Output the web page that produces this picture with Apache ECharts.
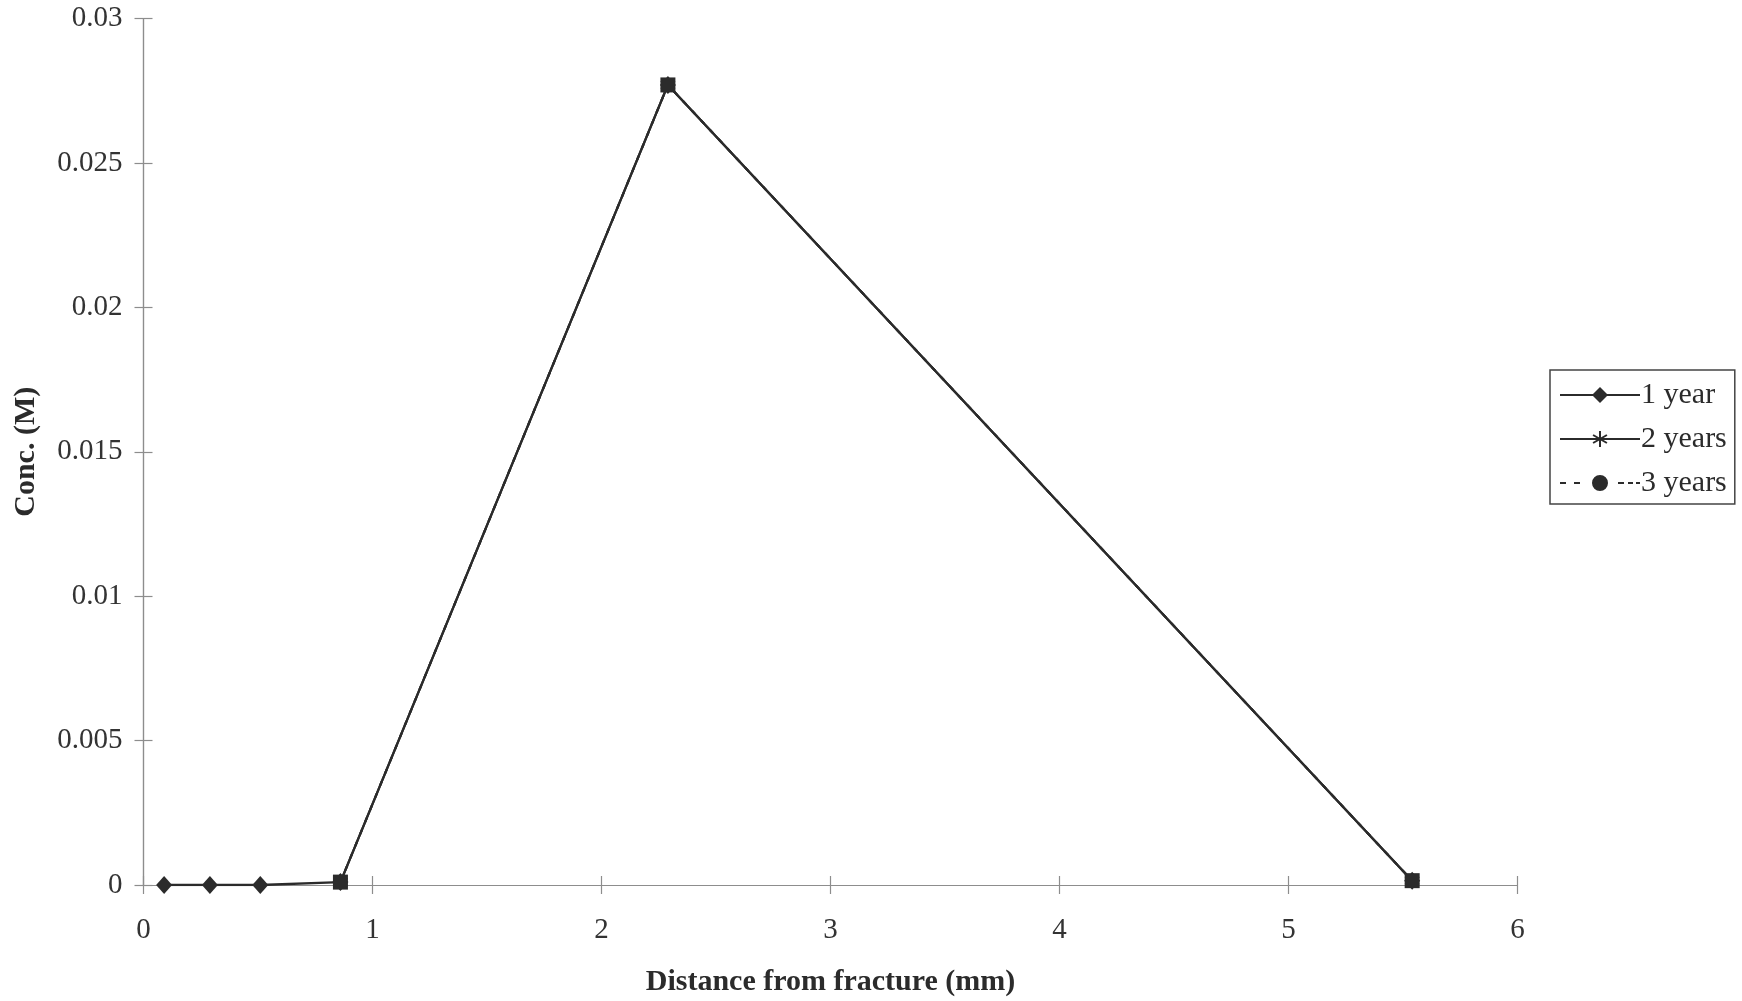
<!DOCTYPE html>
<html>
<head>
<meta charset="utf-8">
<script src="https://cdn.jsdelivr.net/npm/echarts@6/dist/echarts.min.js"></script>
<style>
  html, body { margin: 0; padding: 0; background: #fff; }
  #chart { width: 1742px; height: 1001px; }
</style>
</head>
<body>
<div id="chart"></div>
<script>
// Distance from fracture (mm) and concentration (M) per exposure time
const oneYearX = [0.09, 0.29, 0.51, 0.86, 2.29, 5.54];
const oneYearY = [0, 0, 0, 0.0001, 0.0277, 0.00015];
const twoYearsX = [0.86, 2.29, 5.54];
const twoYearsY = [0.0001, 0.0277, 0.00015];
const threeYearsX = [0.86, 2.29, 5.54];
const threeYearsY = [0.0001, 0.0277, 0.00015];

const seriesNames = ['1 year', '2 years', '3 years'];
const xTickLabels = ['0', '1', '2', '3', '4', '5', '6'];
const yTickLabels = ['0', '0.005', '0.01', '0.015', '0.02', '0.025', '0.03'];

const pairs = (xs, ys) => xs.map((x, i) => [x, ys[i]]);

const FONT = '"Liberation Serif", "Times New Roman", serif';
const INK = '#2b2b2b';
const AXIS = '#8d8d8d';

// asterisk marker: vertical bar plus two slanted bars
const asterisk = 'path://M-1,-10 L1,-10 L1,10 L-1,10 Z M-9.4,-4.2 L-8.4,-5.9 L9.4,4.2 L8.4,5.9 Z M-9.4,4.2 L-8.4,5.9 L9.4,-4.2 L8.4,-5.9 Z';

// legend keys drawn in an 80x16 box: sample line with the marker in the middle
const keyLine = 'M0,7 L80,7 L80,9 L0,9 Z ';
const keyOneYear = 'path://' + keyLine + 'M40,0 L48,8 L40,16 L32,8 Z';
const keyTwoYears = 'path://' + keyLine +
  'M39,0 L41,0 L41,16 L39,16 Z ' +
  'M33.57,3.13 L47.43,11.13 L46.43,12.87 L32.57,4.87 Z ' +
  'M32.57,11.13 L46.43,3.13 L47.43,4.87 L33.57,12.87 Z';
const keyThreeYears = 'path://' +
  'M0,7 L6,7 L6,9 L0,9 Z M14,7 L20,7 L20,9 L14,9 Z ' +
  'M32,8 A8,8 0 1,1 48,8 A8,8 0 1,1 32,8 Z ' +
  'M58,7 L64,7 L64,9 L58,9 Z M68,7 L73,7 L73,9 L68,9 Z M76,7 L80,7 L80,9 L76,9 Z';

const xBase = {
  type: 'value', min: 0, max: 6, interval: 1, position: 'bottom',
  axisLine: { show: true, onZero: false, lineStyle: { color: AXIS, width: 1.2 } },
  splitLine: { show: false }
};
const yBase = {
  type: 'value', min: 0, max: 0.03, interval: 0.005, position: 'left',
  axisLine: { show: true, onZero: false, lineStyle: { color: AXIS, width: 1.2 } },
  splitLine: { show: false }
};

const chart = echarts.init(document.getElementById('chart'), null, { renderer: 'canvas' });
chart.setOption({
  backgroundColor: '#ffffff',
  animation: false,
  textStyle: { fontFamily: FONT, color: INK },
  grid: { left: 143.5, right: 224.5, top: 18.5, bottom: 116, containLabel: false, outerBoundsMode: 'none' },
  xAxis: [
    Object.assign({}, xBase, {
      name: 'Distance from fracture (mm)',
      nameLocation: 'middle', nameGap: 82,
      nameTextStyle: { fontFamily: FONT, fontSize: 30, fontWeight: 'bold', color: INK },
      axisTick: { show: true, inside: false, length: 9, lineStyle: { color: AXIS, width: 1.2 } },
      axisLabel: {
        margin: 31, fontFamily: FONT, fontSize: 29, color: '#333',
        formatter: v => xTickLabels[Math.round(v)]
      }
    }),
    Object.assign({}, xBase, {
      axisTick: { show: true, inside: true, length: 9, lineStyle: { color: AXIS, width: 1.2 } },
      axisLabel: { show: false }
    })
  ],
  yAxis: [
    Object.assign({}, yBase, {
      name: 'Conc. (M)',
      nameLocation: 'middle', nameGap: 102, nameRotate: 90,
      nameTextStyle: { fontFamily: FONT, fontSize: 30, fontWeight: 'bold', color: INK },
      axisTick: { show: true, inside: false, length: 9, lineStyle: { color: AXIS, width: 1.2 } },
      axisLabel: {
        margin: 21, fontFamily: FONT, fontSize: 29, color: '#333',
        formatter: v => yTickLabels[Math.round(v / 0.005)]
      }
    }),
    Object.assign({}, yBase, {
      axisTick: { show: true, inside: true, length: 9, lineStyle: { color: AXIS, width: 1.2 } },
      axisLabel: { show: false }
    })
  ],
  legend: {
    orient: 'vertical',
    left: 1550, top: 370,
    padding: [10, 8, 6, 10],
    itemGap: 14,
    itemWidth: 80, itemHeight: 16,
    borderColor: '#444', borderWidth: 1.5, borderRadius: 0,
    backgroundColor: '#fff',
    textStyle: { fontFamily: FONT, fontSize: 30, color: INK, padding: [0, 0, 0, -4] },
    data: [
      { name: seriesNames[0], icon: keyOneYear },
      { name: seriesNames[1], icon: keyTwoYears },
      { name: seriesNames[2], icon: keyThreeYears }
    ]
  },
  series: [
    {
      name: seriesNames[0], type: 'line', data: pairs(oneYearX, oneYearY),
      symbol: 'diamond', symbolSize: [16, 18],
      lineStyle: { color: INK, width: 2.3 },
      itemStyle: { color: INK }, z: 3
    },
    {
      name: seriesNames[1], type: 'line', data: pairs(twoYearsX, twoYearsY),
      symbol: asterisk, symbolSize: 15,
      lineStyle: { color: INK, width: 2.3 },
      itemStyle: { color: INK }, z: 4
    },
    {
      name: seriesNames[2], type: 'line', data: pairs(threeYearsX, threeYearsY),
      symbol: 'rect', symbolSize: 15,
      lineStyle: { color: INK, width: 2.3, type: [5, 8] },
      itemStyle: { color: INK }, z: 5
    }
  ]
});
</script>
</body>
</html>
